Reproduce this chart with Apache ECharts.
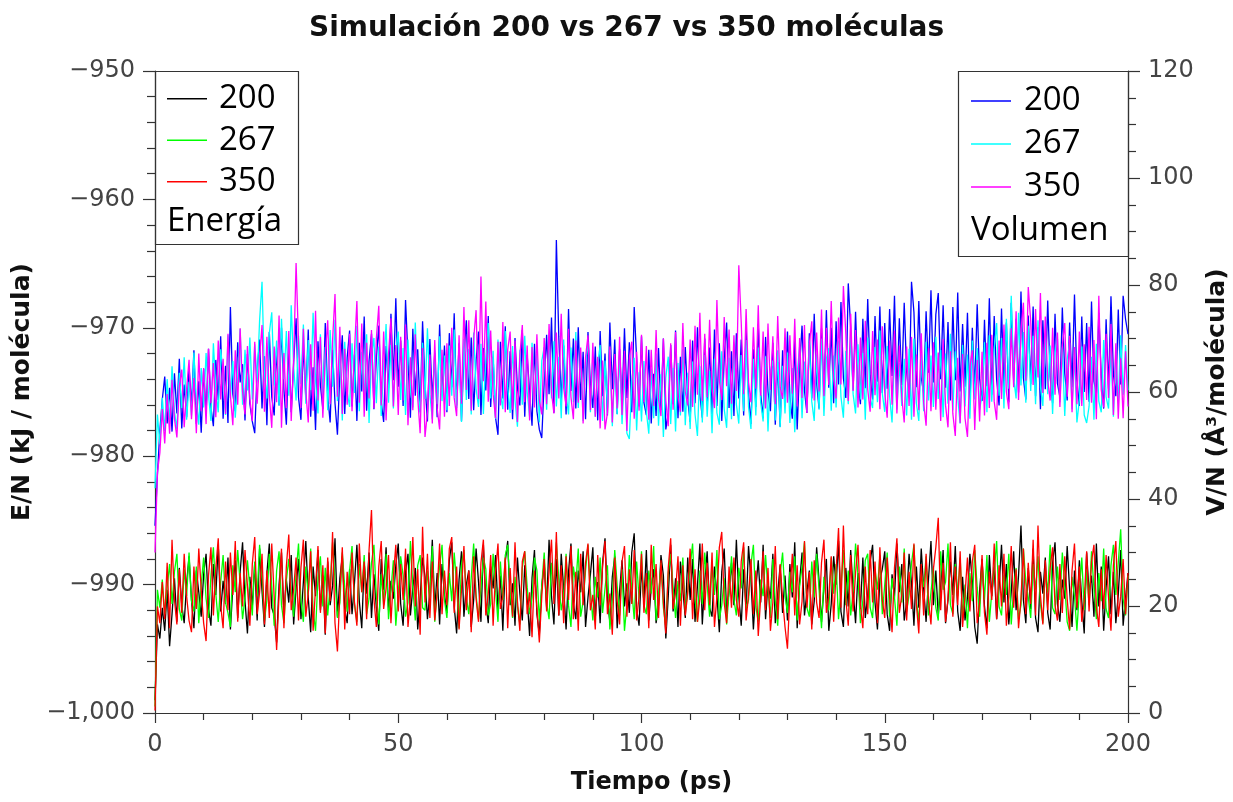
<!DOCTYPE html>
<html>
<head>
<meta charset="utf-8">
<script src="https://cdn.jsdelivr.net/npm/echarts@6/dist/echarts.min.js"></script>
<style>
html,body{margin:0;padding:0;background:#fff;}
#chart{width:1233px;height:802px;}
</style>
</head>
<body>
<div id="chart"></div>
<script>
// Time step of the samples (ps): sample i is at t = i * dt
const dt = 0.5;
const xTicks = [0, 50, 100, 150, 200];
const legendLabels = ['200', '267', '350'];

// Energy per molecule (kJ/molécula), left axis
const e200 = [
-999.0,-993.1,-994.2,-991.8,-993.6,-990.4,-994.8,-992.3,-989.5,-992.9,-988.7,-991.6,-993.0,-989.9,-987.8,-991.2,-993.4,-988.9,-990.6,-992.5,
-989.2,-987.6,-991.9,-993.2,-988.4,-990.8,-986.9,-992.1,-989.7,-991.5,-987.9,-993.5,-990.2,-988.1,-992.6,-989.0,-986.7,-991.3,-993.8,-989.4,
-991.7,-988.3,-992.8,-987.2,-990.5,-993.3,-989.1,-986.8,-991.8,-992.4,-994.5,-990.0,-987.5,-992.2,-989.6,-991.4,-987.7,-993.1,-990.3,-988.0,
-992.7,-989.8,-986.6,-991.0,-993.7,-988.6,-990.9,-987.3,-992.0,-989.3,-993.9,-988.2,-991.6,-990.1,-986.4,-992.5,-989.5,-987.8,-991.9,-993.0,
-988.8,-992.3,-989.9,-986.9,-991.3,-993.4,-988.3,-990.7,-987.5,-992.6,-989.2,-991.8,-993.6,-988.0,-990.4,-987.1,-992.0,-989.7,-991.1,-988.5,
-986.8,-991.5,-993.2,-989.0,-987.6,-992.4,-990.2,-988.7,-993.5,-991.0,-987.9,-989.4,-992.7,-990.6,-986.5,-991.9,-989.1,-993.1,-988.4,-990.8,
-992.2,-988.1,-986.7,-991.7,-993.8,-989.6,-987.4,-992.5,-990.0,-988.9,-993.3,-991.2,-987.2,-989.8,-992.9,-986.9,-991.4,-993.0,-988.6,-990.3,
-987.7,-992.0,-989.3,-993.6,-988.2,-986.6,-991.6,-989.9,-993.2,-987.9,-990.7,-992.8,-988.5,-991.1,-994.0,-989.5,-987.3,-992.3,-993.9,-990.1,
-988.4,-991.8,-986.5,-990.9,-993.1,-988.0,-992.4,-987.6,-990.3,-993.5,-989.0,-986.8,-991.5,-992.7,-988.9,-990.6,-987.4,-993.3,-991.0,-989.2,
-987.1,-992.6,-989.8,-993.0,-988.3,-986.4,-991.2,-992.9,-989.4,-987.8,-993.4,-990.5,-988.1,-991.7,-989.9,-992.2,-987.5,-986.0,-991.9,-993.2,
-988.6,-991.4,-987.3,-992.8,-990.2,-988.8,-993.0,-991.6,-987.7,-989.3,-994.2,-990.9,-986.9,-992.1,-989.5,-993.3,-988.2,-990.4,-992.6,-987.9,
-991.2,-988.0,-992.9,-990.1,-986.8,-993.1,-989.7,-987.4,-991.8,-992.5,-988.6,-990.8,-993.7,-989.0,-987.2,-992.3,-990.5,-988.3,-991.6,-986.5,
-990.9,-993.2,-988.8,-992.0,-987.0,-989.6,-993.5,-990.3,-988.1,-991.4,-986.9,-992.7,-989.9,-991.1,-987.6,-993.0,-990.7,-988.5,-992.2,-989.3,
-992.8,-988.4,-991.0,-986.7,-993.4,-989.8,-987.5,-992.4,-990.6,-988.9,-993.1,-991.3,-987.1,-989.7,-992.9,-990.2,-988.0,-993.6,-991.5,-987.8,
-990.0,-986.6,-992.1,-993.3,-988.7,-991.7,-987.3,-990.4,-993.0,-989.1,-991.9,-987.9,-992.6,-990.8,-988.2,-986.9,-991.4,-993.5,-989.6,-988.8,
-987.4,-992.3,-993.6,-989.2,-991.0,-986.8,-990.6,-988.4,-992.8,-991.3,-987.6,-989.9,-993.2,-988.6,-991.8,-987.2,-990.3,-992.9,-989.5,-986.6,
-991.6,-988.9,-992.4,-990.1,-987.3,-993.0,-991.2,-988.2,-990.8,-987.0,-992.1,-993.6,-989.4,-992.8,-991.0,-987.6,-989.7,-993.3,-994.6,-990.5,
-988.0,-991.7,-993.4,-987.7,-990.9,-988.6,-992.7,-990.2,-986.9,-991.4,-988.4,-993.1,-990.6,-987.4,-992.0,-989.3,-985.4,-991.2,-993.0,-988.7,
-991.9,-987.2,-992.6,-993.7,-989.0,-990.7,-987.9,-992.2,-993.5,-988.3,-986.7,-991.5,-992.9,-989.6,-991.1,-987.0,-990.4,-993.3,-988.9,-992.0,
-988.1,-991.3,-993.8,-987.5,-990.6,-989.3,-992.5,-986.8,-991.7,-988.6,-993.6,-990.2,-987.8,-992.3,-989.0,-993.0,-990.8,-987.3,-993.2,-991.0,
-989.1];

const e267 = [
-999.5,-990.4,-991.8,-989.6,-992.3,-990.2,-988.4,-991.5,-989.0,-987.6,-991.9,-992.8,-988.8,-990.9,-987.5,-991.3,-992.1,-988.6,-993.0,-990.0,
-987.9,-991.1,-992.6,-989.3,-987.1,-990.7,-992.9,-989.8,-987.7,-991.4,-992.2,-993.3,-988.5,-990.6,-987.3,-989.9,-992.7,-991.0,-988.1,-990.3,
-992.4,-988.2,-990.9,-986.9,-989.4,-992.8,-991.2,-987.6,-990.1,-993.2,-988.9,-987.4,-991.6,-993.0,-989.7,-988.0,-990.5,-992.5,-989.1,-986.8,
-991.3,-992.9,-988.6,-990.8,-987.2,-992.0,-993.6,-989.5,-987.8,-991.7,-988.7,-992.4,-990.1,-986.7,-989.6,-992.6,-991.4,-987.5,-990.2,-992.1,
-988.9,-987.0,-991.5,-992.9,-988.4,-990.6,-987.7,-992.3,-991.1,-988.3,-986.9,-990.9,-993.1,-989.2,-991.6,-987.6,-992.7,-990.4,-988.1,-993.2,
-990.7,-987.8,-989.3,-992.5,-991.4,-986.6,-990.2,-992.8,-988.5,-987.7,-991.8,-992.0,-988.9,-991.1,-987.0,-992.9,-990.5,-988.6,-986.9,-991.2,
-992.6,-989.1,-991.3,-987.5,-990.0,-993.4,-988.4,-987.3,-991.0,-992.3,-989.5,-986.8,-990.8,-992.7,-990.3,-987.9,-988.8,-992.4,-991.5,-987.6,
-990.4,-992.9,-988.2,-991.2,-987.7,-986.9,-990.6,-992.6,-989.4,-991.7,-993.1,-988.7,-987.4,-990.2,-992.3,-991.0,-987.9,-988.9,-992.8,-990.1,
-987.5,-991.4,-992.7,-988.3,-990.7,-986.7,-989.6,-992.0,-990.9,-987.6,-991.6,-993.3,-988.6,-990.0,-987.2,-992.5,-991.3,-988.9,-986.9,-990.5,
-992.8,-989.4,-991.0,-987.9,-992.2,-990.3,-988.5,-993.5,-991.2,-987.3,-990.1,-992.4,-988.8,-993.6,-991.5,-987.7,-990.4,-992.7,-988.2,-991.1,
-987.4,-991.6,-992.3,-988.9,-990.7,-987.0,-992.8,-990.9,-988.3,-991.8,-993.3,-989.1,-987.6,-990.2,-992.6,-989.7,-991.3,-987.9,-992.1,-990.5,
-988.6,-986.8,-991.1,-992.9,-988.9,-991.5,-987.5,-990.0,-992.5,-988.2,-990.8,-987.3,-992.7,-991.6,-989.5,-993.1,-990.6,-987.8,-991.2,-992.4,
-988.7,-990.3,-987.1,-991.9,-991.2,-988.4,-986.9,-991.7,-992.9,-989.6,-990.9,-987.7,-990.4,-992.6,-988.0,-991.3,-993.2,-989.2,-987.5,-990.8,
-992.2,-989.0,-990.6,-987.8,-992.8,-990.1,-988.6,-986.7,-991.8,-992.5,-988.2,-991.0,-987.6,-990.4,-993.4,-989.4,-991.4,-992.0,-987.9,-990.7,
-988.4,-992.7,-990.2,-987.3,-991.6,-988.9,-992.4,-990.5,-986.8,-989.3,-993.0,-991.2,-988.1,-987.6,-991.8,-992.6,-988.8,-990.4,-987.7,-992.3,
-990.0,-987.5,-992.5,-989.5,-991.0,-993.2,-988.6,-991.4,-987.2,-992.1,-990.8,-988.3,-986.9,-991.2,-992.9,-989.2,-990.2,-987.8,-992.4,-990.6,
-988.7,-991.8,-992.8,-987.4,-990.4,-989.8,-986.8,-991.6,-992.3,-988.4,-990.9,-987.9,-992.6,-990.0,-993.4,-989.1,-991.3,-987.3,-990.2,-992.5,
-988.2,-991.2,-987.7,-992.9,-990.6,-989.0,-986.6,-991.7,-992.4,-989.3,-990.8,-987.6,-993.1,-990.3,-988.7,-992.7,-991.6,-987.2,-989.8,-991.0,
-992.6,-988.4,-990.4,-987.8,-991.5,-993.0,-988.9,-990.6,-986.9,-991.8,-992.3,-988.6,-991.2,-987.5,-990.1,-992.9,-993.6,-989.4,-990.9,-993.6,
-990.5,-987.9,-992.0,-988.8,-991.6,-987.4,-990.3,-992.7,-989.1,-991.3,-987.2,-991.9,-992.6,-988.5,-986.9,-990.8,-988.3,-985.7,-991.1,-992.4,
-989.3];

const e350 = [
-999.8,-991.7,-993.0,-989.8,-992.7,-988.3,-993.4,-986.5,-991.2,-993.1,-988.8,-992.2,-987.6,-990.9,-992.8,-993.7,-988.6,-991.9,-987.2,-990.4,
-993.0,-994.4,-989.3,-987.1,-992.4,-988.7,-986.4,-991.6,-993.4,-988.2,-992.0,-987.5,-990.8,-986.6,-992.9,-989.1,-991.7,-987.3,-990.1,-993.2,
-988.4,-986.3,-992.3,-990.6,-987.6,-993.1,-988.9,-992.6,-986.8,-991.0,-995.1,-990.8,-987.2,-993.4,-988.6,-986.1,-992.0,-990.4,-987.9,-992.8,
-988.7,-986.5,-992.5,-990.7,-987.4,-993.6,-990.2,-987.0,-992.2,-988.5,-993.8,-987.9,-991.3,-985.9,-993.0,-995.2,-990.6,-987.1,-993.5,-989.0,
-992.3,-987.5,-991.4,-993.2,-986.8,-990.6,-988.2,-992.7,-987.3,-984.2,-991.1,-993.3,-988.6,-986.6,-991.9,-990.3,-987.7,-993.0,-989.4,-986.9,
-992.1,-988.4,-991.2,-987.2,-993.3,-990.9,-986.3,-991.7,-988.8,-993.9,-985.5,-991.4,-987.6,-992.6,-988.2,-992.8,-990.6,-986.8,-992.3,-988.9,
-991.6,-987.2,-986.3,-992.2,-988.6,-993.5,-990.4,-987.0,-992.0,-988.9,-993.7,-987.8,-991.1,-992.9,-988.3,-986.5,-992.4,-990.7,-987.7,-993.2,
-989.0,-986.8,-991.9,-990.9,-987.9,-993.4,-988.7,-992.5,-986.7,-991.3,-993.6,-988.2,-987.4,-992.3,-990.6,-994.1,-988.9,-991.8,-994.5,-990.9,
-988.0,-992.1,-988.9,-986.5,-991.5,-985.9,-992.4,-988.5,-993.0,-987.8,-991.2,-987.0,-992.7,-989.0,-993.6,-987.6,-991.6,-988.3,-986.8,-992.0,
-990.8,-993.5,-987.7,-991.6,-988.6,-986.6,-992.3,-990.7,-993.9,-987.9,-991.3,-993.1,-988.2,-987.0,-992.5,-988.8,-991.5,-987.3,-992.8,-990.9,
-987.6,-992.2,-989.1,-993.4,-986.9,-991.2,-988.4,-992.6,-988.1,-991.4,-993.8,-988.7,-986.4,-991.9,-990.6,-987.8,-993.2,-988.5,-992.4,-990.7,
-987.2,-992.7,-988.8,-992.9,-991.1,-986.8,-992.0,-988.3,-991.6,-987.5,-993.3,-990.9,-987.1,-985.9,-991.4,-993.0,-988.6,-991.8,-987.9,-991.2,
-992.5,-988.2,-986.7,-992.8,-990.8,-988.0,-992.3,-988.9,-994.0,-991.0,-987.4,-992.0,-988.7,-993.6,-991.4,-987.0,-992.7,-988.4,-991.1,-993.3,
-995.0,-990.7,-987.6,-992.4,-988.5,-993.1,-991.3,-986.6,-991.8,-989.0,-993.5,-988.1,-991.4,-992.6,-988.3,-986.5,-992.2,-990.9,-987.8,-992.9,
-988.9,-985.6,-991.8,-985.4,-991.1,-993.2,-987.7,-992.1,-989.1,-986.9,-991.6,-993.4,-988.6,-992.3,-987.3,-991.4,-988.2,-993.0,-987.1,-991.2,
-992.6,-987.9,-991.0,-993.7,-988.7,-986.4,-992.2,-990.8,-987.5,-992.8,-989.0,-991.9,-986.8,-991.5,-993.8,-988.4,-992.4,-987.6,-991.3,-993.1,
-988.8,-987.1,-984.8,-992.0,-988.3,-992.9,-991.1,-986.7,-992.5,-988.6,-991.6,-987.4,-993.3,-990.8,-987.9,-992.1,-988.2,-986.9,-993.0,-991.4,
-987.7,-992.2,-993.9,-989.0,-991.2,-986.8,-992.7,-988.5,-991.7,-987.6,-993.2,-990.9,-987.0,-991.8,-988.8,-993.4,-991.1,-987.2,-992.3,-988.3,
-991.5,-986.5,-992.4,-985.4,-990.8,-993.1,-988.1,-992.0,-988.7,-987.1,-991.6,-992.8,-988.4,-992.2,-987.8,-991.1,-993.5,-988.9,-986.8,-991.8,
-988.6,-992.9,-991.3,-987.4,-992.1,-988.2,-986.9,-991.7,-993.3,-988.8,-991.9,-987.7,-991.0,-993.6,-988.5,-986.6,-992.5,-990.9,-988.0,-992.3,
-989.1];

// Volume per molecule (Å³/molécula), right axis
const v200 = [
35.0,44.5,52.8,58.6,62.9,54.1,60.8,52.6,63.5,56.0,66.2,53.2,61.4,55.3,64.7,57.4,67.8,54.0,62.0,52.4,
64.3,55.8,68.1,57.1,53.6,66.0,58.5,70.4,55.0,64.9,54.2,75.9,59.6,56.4,69.3,61.8,65.2,54.7,67.1,57.8,
54.5,52.3,64.0,69.8,56.9,66.7,53.8,71.2,59.1,55.6,68.3,57.5,72.0,60.4,53.9,67.4,56.2,65.5,73.8,59.0,
54.8,68.9,58.7,71.7,55.4,64.6,52.9,69.5,61.3,56.8,72.9,59.4,54.3,67.9,57.9,52.0,63.6,70.6,55.9,66.4,
71.5,57.3,67.0,54.6,69.2,60.1,74.1,56.5,65.8,70.9,56.8,66.3,72.4,58.2,54.4,68.6,60.7,74.6,62.2,77.5,
61.0,69.6,57.4,77.2,66.5,55.2,71.8,59.3,68.0,56.3,73.2,61.5,54.5,69.9,58.6,67.3,55.3,72.6,60.0,68.7,
56.2,71.0,60.9,74.7,57.5,69.1,54.6,66.8,73.4,58.7,70.2,56.6,65.9,71.3,55.7,68.2,60.3,74.2,57.2,66.6,
55.2,52.0,69.4,58.8,72.3,56.7,67.6,54.9,70.1,60.6,57.5,71.6,55.4,66.9,59.9,53.7,69.0,56.4,53.0,51.4,
61.9,70.7,59.6,73.9,56.1,88.4,70.3,58.4,68.7,55.8,75.5,60.2,70.0,56.9,72.1,58.5,67.5,54.9,71.2,61.1,
57.0,68.5,54.7,71.4,59.2,67.2,55.6,73.0,60.5,69.8,55.9,68.0,57.8,71.9,58.9,69.3,56.2,75.9,66.1,57.3,
70.4,58.0,55.7,67.9,54.1,63.4,55.5,68.2,56.6,70.0,53.0,56.0,68.8,57.7,71.5,55.1,66.6,56.3,68.4,58.6,
54.4,69.6,57.9,72.1,59.5,55.2,70.0,58.2,68.3,55.9,71.7,57.4,69.1,54.6,66.2,73.0,57.0,67.6,55.5,71.0,
58.8,69.8,55.6,71.5,59.7,54.0,68.0,57.2,72.7,59.6,55.1,70.3,60.1,56.4,69.2,53.9,65.6,53.5,67.8,57.5,
71.3,59.0,55.0,69.6,53.0,64.9,72.4,60.2,56.1,71.0,58.8,74.6,61.6,56.9,71.9,59.3,75.3,60.8,72.0,57.9,
73.2,61.4,76.8,62.6,58.9,80.3,71.9,60.4,75.0,62.0,57.7,73.7,60.7,77.4,63.1,58.6,74.2,61.9,76.0,59.8,
72.9,60.6,75.5,63.0,78.0,59.4,73.8,61.3,76.7,63.8,59.0,80.6,74.9,60.9,77.0,62.7,59.8,75.1,63.6,79.0,
61.8,74.5,78.5,62.4,76.2,60.8,73.1,58.4,75.9,62.2,78.6,60.1,72.7,61.0,74.8,57.6,72.0,60.3,76.4,62.5,
58.3,73.5,61.1,77.5,59.5,74.2,62.3,57.5,75.6,60.8,73.0,58.1,76.7,61.9,73.7,59.9,78.8,62.6,58.6,74.3,
61.5,76.0,59.2,72.1,56.8,73.4,60.5,77.1,62.8,57.9,74.6,61.6,59.1,75.8,63.5,58.4,73.0,60.9,78.2,62.2,
57.4,74.1,60.0,72.9,58.2,76.9,62.0,59.5,74.8,63.0,56.9,73.6,60.6,77.9,63.4,59.2,75.4,61.4,78.0,73.6,
70.8];

const v267 = [
42.0,55.8,50.2,58.9,52.7,62.4,54.0,64.8,56.3,53.1,63.6,57.0,66.5,54.8,61.9,55.6,67.4,58.2,53.9,64.5,
57.1,67.3,59.4,54.6,69.1,60.7,56.2,68.0,63.5,55.7,70.6,58.9,65.8,55.2,62.7,71.8,57.6,67.9,60.3,70.2,
58.6,68.9,62.1,73.4,80.6,63.0,58.8,71.0,74.9,61.2,69.6,57.5,73.7,62.4,71.4,59.3,76.2,64.8,58.4,70.5,
61.5,72.6,57.8,69.7,60.4,74.8,62.2,56.0,70.8,59.7,68.4,56.6,71.6,61.0,73.5,58.3,67.9,54.7,69.4,60.0,
57.2,69.1,59.8,72.4,56.4,67.5,58.6,70.8,54.2,66.9,70.1,57.9,68.5,55.5,64.6,72.7,58.0,68.8,56.9,67.6,
71.3,58.5,68.2,55.7,69.8,60.4,57.1,73.0,61.1,56.0,69.2,58.7,71.9,59.6,54.9,67.8,57.7,70.4,58.3,66.8,
56.6,68.7,59.3,71.7,57.0,67.4,54.4,69.9,58.5,68.1,55.8,71.1,60.6,57.2,69.0,55.9,66.4,72.9,58.8,67.7,
55.0,69.8,59.7,56.8,71.4,60.9,56.1,68.6,58.4,53.5,67.9,57.6,70.5,60.1,55.4,69.2,58.0,67.1,54.3,65.8,
68.4,56.7,70.7,58.8,69.5,57.3,66.6,55.1,69.8,59.6,55.8,68.3,58.1,71.2,57.0,67.4,54.6,65.6,69.3,56.2,
66.7,55.4,64.9,68.8,54.6,65.9,57.0,67.9,53.6,64.6,55.8,67.6,54.0,63.8,52.3,51.2,61.7,66.4,52.8,63.7,
54.5,65.8,56.3,52.2,64.4,55.1,67.2,53.7,63.3,51.6,62.7,66.6,54.0,64.5,52.6,65.4,55.6,68.0,53.8,63.6,
53.1,65.7,55.8,51.8,64.8,54.3,66.9,55.4,63.9,52.3,66.2,56.1,53.9,67.6,56.8,53.3,66.4,54.9,69.0,57.7,
54.1,66.9,56.4,69.7,57.2,53.1,66.2,55.6,68.3,58.0,54.5,66.7,52.6,63.9,65.9,54.7,67.8,53.4,64.9,56.0,
67.4,54.2,64.5,52.5,63.4,68.5,55.1,65.7,56.3,69.2,58.2,54.6,67.0,56.7,70.0,55.5,66.3,68.2,56.5,66.8,
57.1,69.6,59.1,55.2,67.7,57.7,70.8,59.6,56.0,68.9,58.6,67.3,54.8,70.2,58.9,57.0,68.4,58.1,71.5,59.7,
56.3,68.6,59.2,54.3,67.5,56.7,65.4,57.4,66.2,55.6,68.1,54.8,70.0,57.9,54.6,67.1,56.4,69.4,58.4,66.8,
57.2,70.3,58.7,67.9,55.3,67.2,57.8,70.9,56.6,67.6,59.0,54.1,68.8,57.3,67.0,55.0,69.6,58.6,68.2,56.7,
59.5,69.3,56.2,70.6,58.2,68.0,72.9,59.3,70.1,56.9,73.7,60.6,78.0,62.6,58.8,74.8,61.2,71.2,58.0,72.4,
60.2,70.5,57.7,73.4,60.9,57.4,70.8,59.6,68.7,55.9,67.4,69.9,58.1,68.3,55.5,66.1,69.2,56.8,66.9,54.3,
58.5,68.5,55.7,54.2,57.3,66.6,54.8,69.0,58.3,56.2,69.7,59.1,56.9,67.9,55.4,67.3,57.9,70.6,59.5,68.8,
60.3];

const v350 = [
30.0,45.0,48.6,56.8,50.4,59.6,52.2,62.3,55.0,51.5,61.1,64.2,53.4,60.7,66.0,54.9,62.6,52.3,67.2,56.4,
64.5,54.0,68.1,57.9,65.4,55.3,69.6,58.6,66.2,55.9,70.9,59.4,53.8,67.8,57.6,71.9,60.1,55.8,68.6,58.7,
54.6,69.4,57.8,66.6,72.5,56.3,70.3,59.4,53.3,68.5,58.1,74.3,53.3,67.3,57.0,71.4,54.6,66.0,84.1,69.4,
57.0,71.8,60.2,54.3,68.9,56.5,75.2,58.4,70.3,55.2,67.0,73.4,57.7,69.6,78.3,59.1,72.2,55.9,68.1,57.6,
70.9,56.4,67.6,77.0,58.0,72.8,55.4,69.2,58.8,71.6,56.9,70.0,76.1,57.5,71.3,54.7,67.1,73.8,57.3,68.8,
55.7,70.3,58.4,72.6,53.8,66.5,56.6,70.8,59.0,52.3,68.2,51.6,56.2,67.0,54.1,69.7,57.0,53.0,67.9,55.4,
69.1,57.4,72.0,58.9,55.5,70.6,57.8,75.9,60.4,73.4,56.5,69.9,75.3,58.7,81.6,62.0,76.9,58.2,71.5,59.6,
55.1,69.4,57.5,73.1,56.2,67.9,71.3,56.7,69.6,54.4,66.9,72.5,58.1,68.7,54.7,68.4,57.1,70.8,58.5,55.8,
70.1,57.7,72.7,59.9,56.0,71.1,58.8,74.6,60.8,57.3,71.8,59.1,54.9,69.6,58.0,68.3,54.1,66.5,70.6,56.6,
69.2,55.4,66.6,53.2,65.9,53.0,56.1,68.5,54.3,67.1,56.9,70.3,55.7,67.7,52.7,66.4,69.4,55.0,67.5,56.5,
70.7,58.1,68.6,54.8,67.9,57.4,71.6,58.6,55.5,70.0,58.4,53.6,69.1,56.7,71.2,59.2,56.3,72.9,60.0,57.5,
69.8,57.2,72.4,59.5,74.8,58.3,70.9,59.0,73.5,60.7,57.0,77.2,62.2,58.5,74.0,61.1,71.7,57.8,70.6,60.2,
83.7,73.0,59.6,75.5,61.8,58.1,72.1,60.6,76.2,59.3,71.3,56.9,72.8,60.4,70.4,57.7,74.2,60.9,58.7,71.9,
58.0,70.6,59.7,73.7,57.3,70.1,58.9,72.5,56.1,68.9,73.2,58.4,71.1,60.1,75.4,59.2,72.0,61.3,77.0,62.4,
58.8,73.9,61.4,79.8,70.8,58.3,74.6,60.2,71.6,57.1,70.2,58.6,73.3,60.5,56.3,71.4,59.4,69.8,56.8,72.3,
59.9,55.2,69.6,57.6,71.5,56.0,68.7,59.1,54.3,68.5,57.4,70.3,55.4,67.0,56.6,71.0,58.0,53.7,68.2,56.4,
69.3,56.7,67.4,54.6,69.9,57.5,53.4,67.6,55.9,51.8,66.4,54.2,67.1,55.1,51.6,64.6,67.8,52.9,66.0,54.5,
67.5,55.6,69.2,57.0,70.7,58.2,54.8,69.6,58.7,72.6,60.0,56.8,71.9,60.9,75.1,58.5,71.4,76.7,62.1,79.6,
73.3,61.3,75.5,62.7,78.5,59.8,74.1,62.2,58.4,72.0,59.5,71.1,57.2,68.7,72.9,59.1,70.5,56.2,68.4,57.7,
71.3,57.4,68.9,58.5,72.2,58.0,69.7,54.9,78.0,60.4,57.1,70.9,58.9,72.7,55.7,69.1,55.0,66.3,55.1,67.6,
57.3];

const FONT = "'Open Sans', 'Noto Sans', sans-serif";
const FONT_AX = "'DejaVu Sans', sans-serif";
const toPairs = arr => arr.map((v, i) => [i * dt, v]);
const fmtNum = v => (v < 0 ? '\u2212' : '') + Math.abs(v).toLocaleString('en-US');

const chart = echarts.init(document.getElementById('chart'), null, { renderer: 'canvas' });

function lineSeries(name, data, color, yAxisIndex) {
  return {
    name: name, type: 'line', data: toPairs(data), yAxisIndex: yAxisIndex,
    showSymbol: false, symbol: 'none', sampling: null, silent: true,
    lineStyle: { width: 1.3, color: color }, itemStyle: { color: color },
    animation: false
  };
}

const axisLineStyle = { show: true, lineStyle: { color: '#333', width: 1.2 } };

const option = {
  backgroundColor: '#fff',
  animation: false,
  title: {
    text: 'Simulación 200 vs 267 vs 350 moléculas',
    left: 304, top: 10,
    textStyle: { fontFamily: FONT_AX, fontWeight: 'bold', fontSize: 28, color: '#111' }
  },
  grid: { left: 155, right: 105, top: 71, bottom: 89, containLabel: false, outerBoundsMode: 'none' },
  xAxis: {
    type: 'value', min: 0, max: 200, interval: 50,
    name: 'Tiempo (ps)', nameLocation: 'middle', nameGap: 58,
    nameTextStyle: { fontFamily: FONT_AX, fontWeight: 'bold', fontSize: 24, color: '#111', padding: [0, 0, 0, 20] },
    axisLine: axisLineStyle,
    axisTick: { show: true, inside: false, length: 10, lineStyle: { color: '#333', width: 1.2 } },
    minorTick: { show: true, splitNumber: 5, length: 7, lineStyle: { color: '#333', width: 1.2 } },
    splitLine: { show: false },
    axisLabel: { fontFamily: FONT_AX, fontSize: 24, color: '#444', margin: 20,
      formatter: v => xTicks.includes(v) ? String(v) : '' }
  },
  yAxis: [
    {
      type: 'value', min: -1000, max: -950, interval: 10, position: 'left',
      name: 'E/N (kJ / molécula)', nameLocation: 'middle', nameGap: 113,
      nameTextStyle: { fontFamily: FONT_AX, fontWeight: 'bold', fontSize: 25, color: '#111' },
      axisLine: axisLineStyle,
      axisTick: { show: true, inside: false, length: 12, lineStyle: { color: '#333', width: 1.2 } },
      minorTick: { show: true, splitNumber: 5, length: 8, lineStyle: { color: '#333', width: 1.2 } },
      splitLine: { show: false },
      axisLabel: { fontFamily: FONT_AX, fontSize: 24, color: '#444', margin: 20, formatter: fmtNum }
    },
    {
      type: 'value', min: 0, max: 120, interval: 20, position: 'right',
      name: 'V/N (Å³/molécula)', nameLocation: 'middle', nameGap: 77, nameRotate: 90,
      nameTextStyle: { fontFamily: FONT_AX, fontWeight: 'bold', fontSize: 25, color: '#111' },
      axisLine: axisLineStyle,
      axisTick: { show: true, inside: false, length: 12, lineStyle: { color: '#333', width: 1.2 } },
      minorTick: { show: true, splitNumber: 4, length: 8, lineStyle: { color: '#333', width: 1.2 } },
      splitLine: { show: false },
      axisLabel: { fontFamily: FONT_AX, fontSize: 24, color: '#444', margin: 20, formatter: fmtNum }
    }
  ],
  legend: [
    {
      data: ['E200', 'E267', 'E350'], orient: 'vertical', left: 167, top: 78, padding: 0,
      itemWidth: 40, itemHeight: 1.5, itemGap: 0, icon: 'rect', selectedMode: false,
      formatter: name => legendLabels[['E200', 'E267', 'E350'].indexOf(name)],
      textStyle: { fontFamily: FONT, fontSize: 33, color: '#000', lineHeight: 41.5, padding: [0, 0, 0, 7] }
    },
    {
      data: ['V200', 'V267', 'V350'], orient: 'vertical', left: 971, top: 79.5, padding: 0,
      itemWidth: 40, itemHeight: 1.5, itemGap: 0, icon: 'rect', selectedMode: false,
      formatter: name => legendLabels[['V200', 'V267', 'V350'].indexOf(name)],
      textStyle: { fontFamily: FONT, fontSize: 33, color: '#000', lineHeight: 43, padding: [0, 0, 0, 8] }
    }
  ],
  graphic: [
    { type: 'rect', shape: { x: 155.5, y: 71.5, width: 143, height: 173 },
      style: { fill: 'none', stroke: '#333', lineWidth: 1.2 }, z: 10, silent: true },
    { type: 'text', x: 167, y: 222, style: { text: 'Energía', font: "33px 'Open Sans', sans-serif",
      fill: '#000', textVerticalAlign: 'middle' }, z: 10, silent: true },
    { type: 'rect', shape: { x: 958.5, y: 71.5, width: 170, height: 185 },
      style: { fill: 'none', stroke: '#333', lineWidth: 1.2 }, z: 10, silent: true },
    { type: 'text', x: 971, y: 231, style: { text: 'Volumen', font: "33px 'Open Sans', sans-serif",
      fill: '#000', textVerticalAlign: 'middle' }, z: 10, silent: true }
  ],
  series: [
    lineSeries('E200', e200, '#000000', 0),
    lineSeries('E267', e267, '#00ff00', 0),
    lineSeries('E350', e350, '#ff0000', 0),
    lineSeries('V200', v200, '#0000ff', 1),
    lineSeries('V267', v267, '#00ffff', 1),
    lineSeries('V350', v350, '#ff00ff', 1)
  ]
};
chart.setOption(option);
</script>
</body>
</html>
